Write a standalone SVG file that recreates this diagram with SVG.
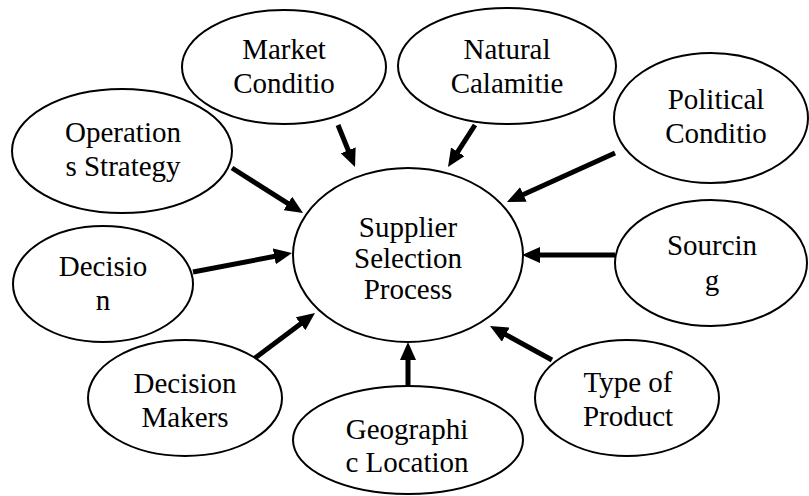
<svg xmlns="http://www.w3.org/2000/svg" width="809" height="496" viewBox="0 0 809 496">
<style>
.n ellipse{fill:#fff;stroke:#000;stroke-width:2}
.c line{stroke:#000;stroke-width:5;marker-end:url(#ah)}
</style>
<defs>
<marker id="ah" markerUnits="userSpaceOnUse" markerWidth="18" markerHeight="16" viewBox="0 0 18 16" refX="6" refY="8" orient="auto">
<path d="M0,0 L18,8 L0,16 z" fill="#000"/>
</marker>
</defs>
<rect width="809" height="496" fill="#fff"/>
<g font-family="Liberation Serif, DejaVu Serif, serif" font-size="29" text-anchor="middle" fill="#000">
<g id="n-market" class="n"><ellipse cx="284" cy="67" rx="102" ry="57"/><text x="284" y="59">Market</text><text x="284" y="93">Conditio</text></g>
<g id="n-natural" class="n"><ellipse cx="507" cy="66" rx="109" ry="58"/><text x="507" y="59">Natural</text><text x="507" y="93">Calamitie</text></g>
<g id="n-political" class="n"><ellipse cx="711" cy="118" rx="97" ry="65"/><text x="716" y="109">Political</text><text x="716" y="143">Conditio</text></g>
<g id="n-operations" class="n"><ellipse cx="122" cy="151" rx="110" ry="62"/><text x="123" y="142">Operation</text><text x="123" y="176">s Strategy</text></g>
<g id="n-supplier" class="n"><ellipse cx="408" cy="255" rx="115" ry="87"/><text x="408" y="237">Supplier</text><text x="408" y="268">Selection</text><text x="408" y="299">Process</text></g>
<g id="n-decision" class="n"><ellipse cx="103" cy="284" rx="90" ry="58"/><text x="103" y="276">Decisio</text><text x="103" y="310">n</text></g>
<g id="n-sourcing" class="n"><ellipse cx="711" cy="263" rx="96" ry="63"/><text x="712" y="255">Sourcin</text><text x="712" y="290">g</text></g>
<g id="n-makers" class="n"><ellipse cx="185" cy="398" rx="97" ry="58"/><text x="185" y="393">Decision</text><text x="185" y="427">Makers</text></g>
<g id="n-geographic" class="n"><ellipse cx="408" cy="440" rx="115" ry="54"/><text x="407" y="439">Geographi</text><text x="407" y="472">c Location</text></g>
<g id="n-type" class="n"><ellipse cx="627" cy="398" rx="92" ry="58"/><text x="628" y="392">Type of</text><text x="628" y="426">Product</text></g>
</g>
<g id="connectors" class="c">
<line x1="338" y1="125" x2="350.5" y2="155.9"/>
<line x1="475" y1="125" x2="454.5" y2="156.9"/>
<line x1="615" y1="153" x2="517.9" y2="197"/>
<line x1="232" y1="168" x2="292.9" y2="206.6"/>
<line x1="193" y1="272" x2="280.2" y2="255.3"/>
<line x1="255" y1="358" x2="305.4" y2="320.2"/>
<line x1="408" y1="387" x2="408" y2="354"/>
<line x1="552" y1="360" x2="500.5" y2="331.8"/>
<line x1="615" y1="255" x2="534" y2="255"/>
</g>
</svg>
